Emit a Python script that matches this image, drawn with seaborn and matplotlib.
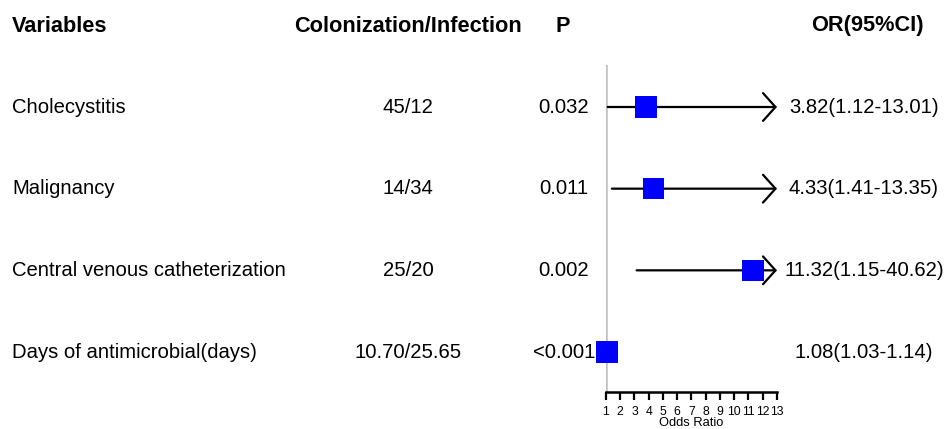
import matplotlib
matplotlib.use("Agg")
import matplotlib.pyplot as plt
import matplotlib.transforms as mtransforms
import seaborn as sns
import pandas as pd

# ---- data ----
variables = ["Cholecystitis", "Malignancy", "Central venous catheterization",
             "Days of antimicrobial(days)"]
col_inf = ["45/12", "14/34", "25/20", "10.70/25.65"]
p_values = ["0.032", "0.011", "0.002", "<0.001"]
or_text = ["3.82(1.12-13.01)", "4.33(1.41-13.35)", "11.32(1.15-40.62)",
           "1.08(1.03-1.14)"]
or_est = [3.82, 4.33, 11.32, 1.08]
ci_low = [1.12, 1.41, 3.15, 1.03]   # as drawn in the picture
ci_high = [13.01, 13.35, 40.62, 1.14]
x_ticks = list(range(1, 14))
headers = ["Variables", "Colonization/Infection", "P", "OR(95%CI)"]

df = pd.DataFrame({"var": variables, "row": range(len(variables)),
                   "OR": or_est, "lo": ci_low, "hi": ci_high})

sns.set_style("white")
plt.rcParams["font.family"] = ["Liberation Sans", "DejaVu Sans"]
plt.rcParams["text.color"] = "black"
plt.rcParams["axes.labelcolor"] = "black"
plt.rcParams["xtick.color"] = "black"

W, H = 953, 429
fig = plt.figure(figsize=(W / 100, H / 100), dpi=100)

def fx(px):
    return px / W

def fy(py):
    return 1 - py / H

# forest axes: x 606..777 px, y 65..392 px
ax = fig.add_axes([fx(606), fy(392), fx(777) - fx(606), (392 - 65) / H])
ax.set_xlim(1, 13)
row_px = (352 - 107) / 3
top = -(107 - 65) / row_px
bottom = 3 + (392 - 352) / row_px
ax.set_ylim(bottom, top)

ax.axvline(1, color="#c0c0c0", lw=1.8, zorder=1)

XMAX = 13
for r in df.itertuples():
    if r.hi > XMAX:
        ax.annotate("", xy=(XMAX, r.row), xytext=(r.lo, r.row),
                    arrowprops=dict(arrowstyle="->,head_length=0.45,head_width=0.5",
                                    lw=1.6, color="black", mutation_scale=20,
                                    shrinkA=0, shrinkB=0),
                    annotation_clip=False, zorder=2)
    else:
        ax.hlines(r.row, r.lo, r.hi, color="black", lw=1.6, zorder=2)

sns.scatterplot(data=df, x="OR", y="row", marker="s", s=240, color="#0000ff",
                edgecolor="none", ax=ax, zorder=3, clip_on=False, legend=False)

for s in ["left", "top", "right"]:
    ax.spines[s].set_visible(False)
ax.spines["bottom"].set_linewidth(1.8)
ax.spines["bottom"].set_color("black")
ax.set_yticks([])
ax.set_xticks(x_ticks)
ax.set_xticklabels([str(t) for t in x_ticks])
ax.tick_params(axis="x", direction="out", length=6, width=1.6, labelsize=8.8,
               pad=4, colors="black", bottom=True)
ax.set_xlabel("Odds Ratio", fontsize=9.3, labelpad=-1)
ax.set_ylabel("")

# ---- text columns ----
hy = fy(26)
hfs = 15.7
fig.text(fx(12), hy, headers[0], fontsize=hfs, fontweight="bold", ha="left", va="center")
fig.text(fx(408), hy, headers[1], fontsize=hfs, fontweight="bold", ha="center", va="center")
fig.text(fx(563), hy, headers[2], fontsize=hfs, fontweight="bold", ha="center", va="center")
fig.text(fx(867), hy, headers[3], fontsize=hfs, fontweight="bold", ha="center", va="center")

tr = mtransforms.blended_transform_factory(fig.transFigure, ax.transData)
bfs = 14.6
for i in range(len(variables)):
    fig.text(fx(12), i, variables[i], fontsize=bfs, ha="left", va="center", transform=tr)
    fig.text(fx(408), i, col_inf[i], fontsize=bfs, ha="center", va="center", transform=tr)
    fig.text(fx(564), i, p_values[i], fontsize=bfs, ha="center", va="center", transform=tr)
    fig.text(fx(864), i, or_text[i], fontsize=bfs, ha="center", va="center", transform=tr)

fig.savefig("out.png", dpi=100)
